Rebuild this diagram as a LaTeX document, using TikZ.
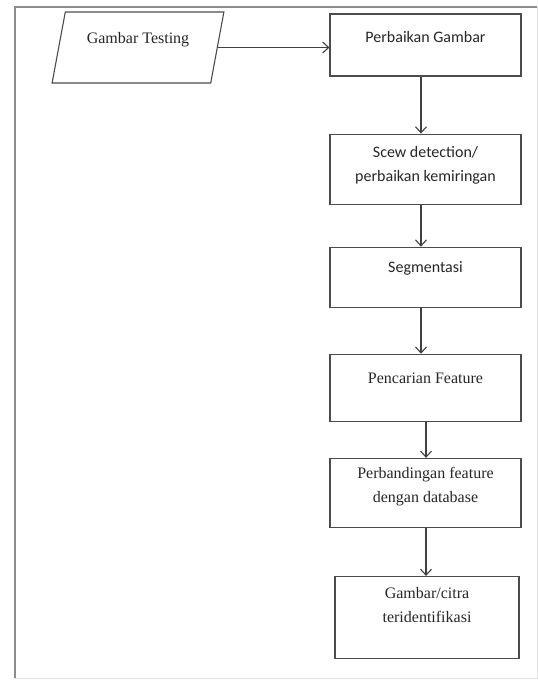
\documentclass[tikz,border=0pt]{standalone}
\usepackage{fontspec}
\setmainfont{Liberation Serif}
\newfontfamily\calibri{Carlito}
\usepackage{tikz}
\usetikzlibrary{positioning,arrows.meta,shapes.geometric}
\tikzset{
  blk/.style={draw=black!70, line width=1.1pt, minimum width=191pt, align=center, text=black!85, font=\fontsize{16}{24}\selectfont, text height=12pt},
  two/.style={text height=36pt},
  io/.style={draw=black!70, line width=1.1pt, trapezium, trapezium left angle=76, trapezium right angle=104, trapezium stretches=true, minimum width=172pt, minimum height=71pt, text=black!85, font=\fontsize{16}{24}\selectfont, text height=12pt},
  arr/.style={-{Straight Barb[length=6pt, width=11pt]}, line width=1.1pt, draw=black!75},
}
\begin{document}
\begin{tikzpicture}[x=1pt, y=-1pt]
\useasboundingbox (0,0) rectangle (538,680);
% frame of the page
\draw[black!45, line width=1.5pt] (15,678) -- (15,7) -- (537,7);
\draw[black!12, line width=1pt] (537,7) -- (537,678) -- (15,678);
\node[io, text depth=21pt] (in) at (138,47.5) {Gambar Testing};
\node[blk, minimum height=62pt, text depth=17pt, font=\calibri\fontsize{16}{24}\selectfont] (b1) at (425.5,45) {Perbaikan Gambar};
\node[blk, two, minimum height=70pt, text depth=12pt, font=\calibri\fontsize{16}{24}\selectfont, below=57pt of b1] (b2) {Scew detection/\\perbaikan kemiringan};
\node[blk, minimum height=60pt, text depth=22pt, font=\calibri\fontsize{16}{24}\selectfont, below=42pt of b2] (b3) {Segmentasi};
\node[blk, minimum height=67pt, text depth=20pt, below=46pt of b3] (b4) {Pencarian Feature};
\node[blk, two, minimum height=69pt, text depth=17pt, below=36pt of b4] (b5) {Perbandingan feature\\dengan database};
\node[blk, two, minimum height=82pt, minimum width=184pt, text depth=27pt, below=48pt of b5, xshift=1.5pt] (b6) {Gambar/citra\\teridentifikasi};
\draw[arr] (in.east) -- (in.east -| b1.west);
\foreach \a/\b/\s in {b1/b2/-4.5,b2/b3/-4.5,b3/b4/-4.5,b4/b5/0.5,b5/b6/0.5}
  \draw[arr] ([xshift=\s pt]\a.south) -- ([xshift=\s pt]\a.south |- \b.north);
\end{tikzpicture}
\end{document}
